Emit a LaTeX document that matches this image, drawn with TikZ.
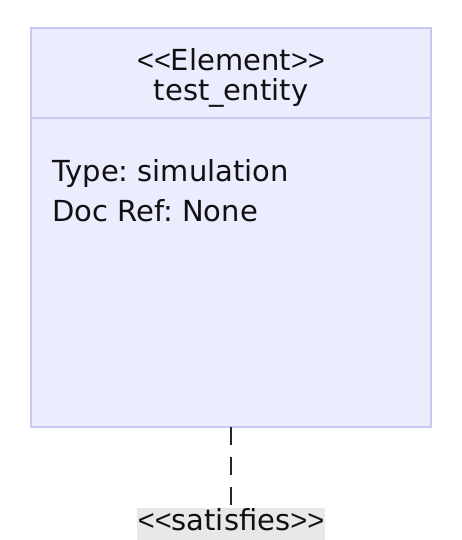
\documentclass[tikz,border=0pt]{standalone}
\usepackage{fontspec}
\setmainfont{DejaVu Sans}
\newfontfamily\ltfont{Liberation Sans}
\newcommand{\lt}{{\ltfont<}}
\newcommand{\gt}{{\ltfont>}}
\definecolor{boxfill}{HTML}{ECECFF}
\definecolor{boxline}{HTML}{C8C8F0}
\definecolor{lblbg}{HTML}{E8E8E8}
\definecolor{txt}{HTML}{111111}
\tikzset{
  lbl/.style={font=\fontsize{29}{34}\selectfont, text=txt, inner sep=0pt},
  conn/.style={draw=black!85, line width=1.5pt, dash pattern=on 18pt off 12pt},
}
\frenchspacing
\begin{document}
\begin{tikzpicture}[x=1pt,y=-1pt]
\useasboundingbox (0,0) rectangle (462,540);
\draw[boxline, fill=boxfill, line width=1.3pt] (31,28) rectangle (431,427);
\draw[boxline, line width=1.3pt] (31,118) -- (431,118);
\coordinate (boxbot) at (231,427);
\node[lbl, anchor=base] (stereo) at (231,71) {\lt\lt Element\gt\gt};
\node[lbl, anchor=base] (name) at (231,101) {test\_entity};
\node[lbl, anchor=base west] (type) at (52,182) {Type: simulation};
\node[lbl, anchor=base west] (doc) at (52,221) {Doc Ref: None};
\node[lbl, fill=lblbg, anchor=base, minimum width=188pt, text height=22pt, text depth=10pt] (sat) at (231,530) {\lt\lt satisfies\gt\gt};
\draw[conn] (boxbot) -- (sat.north);
\end{tikzpicture}
\end{document}
